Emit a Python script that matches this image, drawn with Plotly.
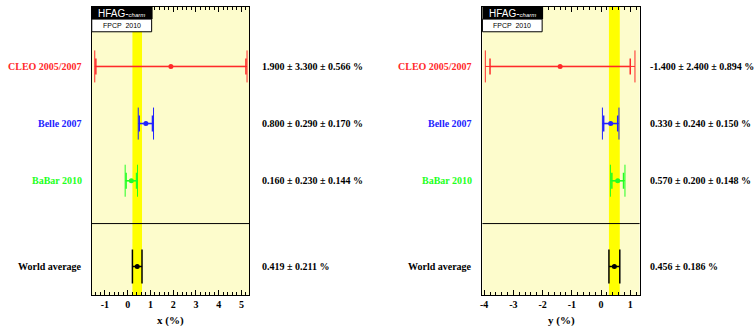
import math
import plotly.graph_objects as go

# ---- data ----
experiments = ["CLEO 2005/2007", "Belle 2007", "BaBar 2010"]
exp_colors = ["#ff2a2a", "#2222ff", "#22ff22"]
x_val = [1.900, 0.800, 0.160]
x_stat = [3.300, 0.290, 0.230]
x_syst = [0.566, 0.170, 0.144]
x_avg, x_avg_err = 0.419, 0.211
y_val = [-1.400, 0.330, 0.570]
y_stat = [2.400, 0.240, 0.200]
y_syst = [0.894, 0.150, 0.148]
y_avg, y_avg_err = 0.456, 0.186
avg_label = "World average"
row_pos = [4, 3, 2]
avg_pos = 0.5
sep_pos = 1.25
x_title = "x (%)"
y_title = "y (%)"
x_ticks = [-1, 0, 1, 2, 3, 4, 5]
x_ticklabels = ["-1", "0", "1", "2", "3", "4", "5"]
y_ticks = [-4, -3, -2, -1, 0, 1]
y_ticklabels = ["-4", "-3", "-2", "-1", "0", "1"]

BG = "#fdfccc"
SERIF = "Liberation Serif"
SANS = "Liberation Sans"

fig = go.Figure()

panels = [
    dict(xa="x", ya="y", vals=x_val, stat=x_stat, syst=x_syst, avg=x_avg, avgerr=x_avg_err,
         lab_x=82 / 755, val_x=259 / 755, title=x_title, tcx=(90 + 248) / 2 / 755),
    dict(xa="x2", ya="y2", vals=y_val, stat=y_stat, syst=y_syst, avg=y_avg, avgerr=y_avg_err,
         lab_x=473 / 755, val_x=648 / 755, title=y_title, tcx=(481.7 + 639.3) / 2 / 755),
]

shapes = []
annotations = []
for p in panels:
    xa, ya = p["xa"], p["ya"]
    xd = xa + " domain"
    yd = ya + " domain"
    # yellow world-average band
    shapes.append(dict(type="rect", xref=xa, yref=yd, x0=p["avg"] - p["avgerr"], x1=p["avg"] + p["avgerr"],
                       y0=0, y1=1, fillcolor="#ffff00", line=dict(width=0), layer="below"))
    # separator
    shapes.append(dict(type="line", xref=xd, yref=ya, x0=0, x1=1, y0=sep_pos, y1=sep_pos,
                       line=dict(color="black", width=1)))
    # logo boxes
    shapes.append(dict(type="rect", xref=xd, yref=yd, x0=0, x1=0.386, y0=0.958, y1=1,
                       fillcolor="black", line=dict(width=0)))
    shapes.append(dict(type="rect", xref=xd, yref=yd, x0=0, x1=0.38, y0=0.914, y1=0.958,
                       fillcolor="white", line=dict(color="black", width=1)))
    annotations.append(dict(xref=xd, yref=yd, x=0.19, y=0.979, showarrow=False,
                            text="HFAG-<i><span style='font-size:6px'>charm</span></i>",
                            font=dict(family=SANS, size=10, color="white"), xanchor="center", yanchor="middle"))
    annotations.append(dict(xref=xd, yref=yd, x=0.19, y=0.936, showarrow=False, text="FPCP  2010",
                            font=dict(family=SANS, size=7, color="black"), xanchor="center", yanchor="middle"))

    for i, name in enumerate(experiments):
        tot = math.sqrt(p["stat"][i] ** 2 + p["syst"][i] ** 2)
        c = exp_colors[i]
        fig.add_trace(go.Scatter(x=[p["vals"][i]], y=[row_pos[i]], xaxis=xa, yaxis=ya, mode="markers",
                                 marker=dict(size=1, color=c),
                                 error_x=dict(type="data", array=[tot], color=c, thickness=1, width=16),
                                 showlegend=False, hoverinfo="skip"))
        fig.add_trace(go.Scatter(x=[p["vals"][i]], y=[row_pos[i]], xaxis=xa, yaxis=ya, mode="markers",
                                 marker=dict(size=5, color=c),
                                 error_x=dict(type="data", array=[p["stat"][i]], color=c, thickness=1.5, width=8),
                                 showlegend=False, hoverinfo="skip"))
        annotations.append(dict(xref="paper", yref=ya, x=p["lab_x"], y=row_pos[i], text="<b>%s</b>" % name,
                                showarrow=False, xanchor="right", yanchor="middle",
                                font=dict(family=SERIF, size=10, color=c)))
        annotations.append(dict(xref="paper", yref=ya, x=p["val_x"], y=row_pos[i],
                                text="<b>%.3f \u00b1 %.3f \u00b1 %.3f %%</b>" % (p["vals"][i], p["stat"][i], p["syst"][i]),
                                showarrow=False, xanchor="left", yanchor="middle",
                                font=dict(family=SERIF, size=10, color="black")))
    # world average
    fig.add_trace(go.Scatter(x=[p["avg"]], y=[avg_pos], xaxis=xa, yaxis=ya, mode="markers",
                             marker=dict(size=5, color="black"),
                             error_x=dict(type="data", array=[p["avgerr"]], color="black", thickness=1.5, width=17),
                             showlegend=False, hoverinfo="skip"))
    annotations.append(dict(xref="paper", yref=ya, x=p["lab_x"], y=avg_pos, text="<b>%s</b>" % avg_label,
                            showarrow=False, xanchor="right", yanchor="middle",
                            font=dict(family=SERIF, size=10, color="black")))
    annotations.append(dict(xref="paper", yref=ya, x=p["val_x"], y=avg_pos,
                            text="<b>%.3f \u00b1 %.3f %%</b>" % (p["avg"], p["avgerr"]),
                            showarrow=False, xanchor="left", yanchor="middle",
                            font=dict(family=SERIF, size=10, color="black")))
    annotations.append(dict(xref="paper", yref="paper", x=p["tcx"], y=(326 - 320) / 326,
                            text="<b>%s</b>" % p["title"], showarrow=False, xanchor="center", yanchor="middle",
                            font=dict(family=SERIF, size=11, color="black")))

ydom = [(326 - 295) / 326, (326 - 7) / 326]
axis_common = dict(showline=True, mirror="ticks", linecolor="black", linewidth=1, ticks="inside",
                   ticklen=5, tickcolor="black", showgrid=False, zeroline=False,
                   tickfont=dict(family=SERIF, size=10, color="black", weight="bold"),
                   minor=dict(ticks="inside", ticklen=3, dtick=0.2, tickcolor="black", showgrid=False))
yaxis_common = dict(showline=True, mirror=True, linecolor="black", linewidth=1, showticklabels=False,
                    ticks="", showgrid=False, zeroline=False, range=[0, 5.04], fixedrange=True)

fig.update_layout(
    width=755, height=326, margin=dict(l=0, r=0, t=0, b=0),
    paper_bgcolor="white", plot_bgcolor=BG,
    xaxis=dict(domain=[90 / 755, 248 / 755], range=[-1.58, 5.35], tickmode="array", tickvals=x_ticks,
               ticktext=x_ticklabels, anchor="y", **axis_common),
    xaxis2=dict(domain=[481.7 / 755, 639.3 / 755], range=[-4.06, 1.32], tickmode="array", tickvals=y_ticks,
                ticktext=y_ticklabels, anchor="y2", **axis_common),
    yaxis=dict(domain=ydom, anchor="x", **yaxis_common),
    yaxis2=dict(domain=ydom, anchor="x2", **yaxis_common),
    shapes=shapes, annotations=annotations,
)

fig.write_html("out.html")
